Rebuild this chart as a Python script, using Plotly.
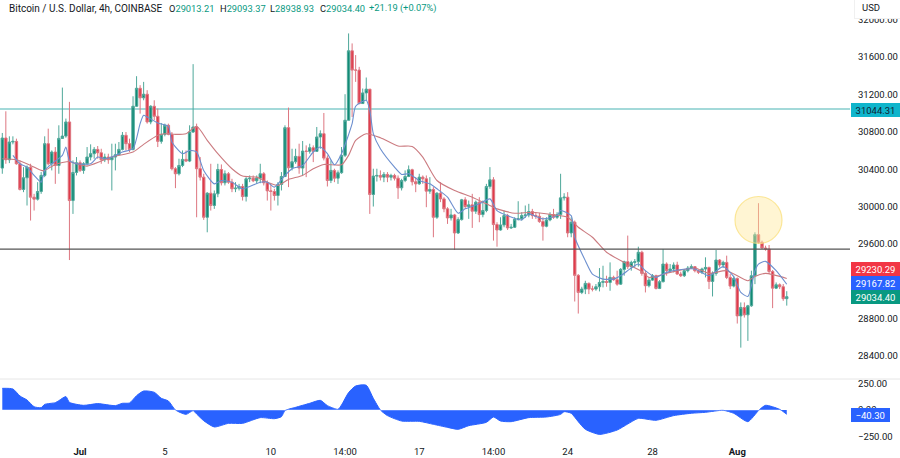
import pandas as pd
import plotly.graph_objects as go

# === Datos ===
dates = pd.date_range("2023-06-27 08:00", periods=223, freq="4h")

first_open = 30412
closes = [
    30734, 30501, 30691, 30698, 30458, 30183, 30308, 30422, 30100, 30079, 30161, 30333, 30673, 30458, 30584,
    30440, 30730, 30755, 30906, 30064, 30365, 30469, 30387, 30458, 30530, 30566, 30612, 30576, 30501, 30530,
    30501, 30530, 30555, 30612, 30763, 30673, 30612, 31074, 31267, 31164, 31203, 30906, 31074, 30967, 30698,
    30773, 30870, 30773, 30405, 30351, 30440, 30505, 30487, 30798, 30852, 30405, 30315, 29885, 30143, 30011,
    30136, 30397, 30254, 30351, 30261, 30190, 30197, 30215, 30107, 30297, 30304, 30276, 30304, 30351, 30254,
    30168, 30161, 30118, 30236, 30322, 30845, 30415, 30480, 30537, 30412, 30594, 30591, 30630, 30591, 30745,
    30780, 30519, 30279, 30387, 30304, 30362, 30548, 30924, 31668, 31461, 31461, 31103, 31217, 31257, 30129,
    30326, 30333, 30315, 30344, 30315, 30333, 30304, 30200, 30279, 30322, 30394, 30265, 30243, 30315, 30297,
    30165, 30183, 29885, 30143, 30082, 29975, 29878, 29910, 29717, 29860, 30072, 30000, 30018, 29950, 30047,
    29914, 29957, 30215, 30286, 29807, 29749, 29803, 29903, 29771, 29778, 29864, 29868, 29903, 29910, 29946,
    29903, 29896, 29839, 29789, 29857, 29914, 29885, 29914, 30093, 30100, 29717, 29832, 29263, 29080, 29116,
    29177, 29116, 29116, 29141, 29187, 29198, 29187, 29241, 29216, 29169, 29327, 29409, 29356, 29402, 29409,
    29510, 29284, 29152, 29212, 29259, 29123, 29195, 29384, 29313, 29331, 29374, 29277, 29259, 29313, 29341,
    29356, 29313, 29295, 29331, 29348, 29198, 29284, 29427, 29374, 29402, 29241, 29148, 29230, 28829, 28919,
    28840, 28937, 29259, 29699, 29617, 29556, 29545, 29305, 29126, 29162, 29141, 29013.21, 29034.40,
]
highs = [
    30788, 31020, 30752, 30752, 30727, 30494, 30422, 30440, 30458, 30136, 30261, 30369, 30752, 30834, 30601,
    30637, 30870, 31274, 30942, 31121, 30494, 30530, 30494, 30476, 30637, 30666, 30637, 30648, 30619, 30566,
    30566, 30673, 30673, 30691, 30798, 30798, 30727, 31181, 31396, 31300, 31335, 31246, 31085, 31138, 31049,
    30895, 30888, 30888, 30798, 30422, 30512, 30601, 30601, 30870, 31525, 30888, 30530, 30351, 30154, 30458,
    30172, 30458, 30451, 30387, 30369, 30297, 30261, 30243, 30243, 30315, 30333, 30333, 30333, 30458, 30369,
    30279, 30243, 30190, 30261, 30369, 30870, 31060, 30619, 30619, 30673, 30702, 30655, 30673, 30655, 30852,
    30816, 31002, 30548, 30494, 30405, 30387, 30637, 31203, 31854, 31747, 31622, 31496, 31264, 31382, 31257,
    30405, 30405, 30387, 30369, 30369, 30351, 30351, 30333, 30297, 30387, 30440, 30405, 30315, 30351, 30333,
    30333, 30315, 30208, 30154, 30261, 30100, 29993, 29975, 29921, 29885, 30082, 30100, 30064, 30136, 30064,
    30100, 30064, 30243, 30422, 30315, 29832, 29885, 29957, 29921, 29814, 29885, 30057, 29939, 30011, 30029,
    29975, 29939, 29932, 29885, 29885, 29939, 29975, 29939, 30351, 30143, 30154, 29885, 29850, 29277, 29141,
    29205, 29187, 29152, 29170, 29341, 29366, 29259, 29402, 29259, 29313, 29341, 29420, 29689, 29420, 29438,
    29570, 29527, 29313, 29241, 29277, 29270, 29212, 29545, 29402, 29384, 29402, 29409, 29302, 29327, 29363,
    29381, 29363, 29327, 29345, 29456, 29356, 29305, 29535, 29438, 29420, 29474, 29277, 29259, 29241, 28973,
    28973, 28947, 29313, 29724, 30036, 29635, 29581, 29588, 29320, 29187, 29177, 29170, 29093.37,
]
lows = [
    30351, 30458, 30465, 30666, 30448, 30172, 30154, 30011, 29850, 29957, 30064, 30136, 30315, 30440, 30387,
    30243, 30351, 30745, 30737, 29427, 29921, 30333, 30369, 30351, 30440, 30494, 30512, 30512, 30458, 30476,
    30458, 30172, 30387, 30548, 30601, 30601, 30584, 30601, 31067, 30995, 31138, 30888, 30881, 30924, 30637,
    30673, 30752, 30763, 30387, 30197, 30333, 30422, 30476, 30476, 30788, 29885, 30279, 29857, 29724, 29957,
    29975, 30100, 30226, 30226, 30243, 30154, 30154, 30172, 30064, 30054, 30261, 30261, 30243, 30250, 30226,
    30064, 29957, 30064, 30011, 30172, 30315, 30208, 30387, 30458, 30351, 30333, 30315, 30566, 30476, 30584,
    30619, 30494, 30215, 30251, 30261, 30243, 30351, 30530, 30924, 30959, 31335, 31095, 31103, 31138, 29921,
    30000, 30268, 30279, 30261, 30261, 30279, 30279, 30082, 30172, 30261, 30315, 30226, 30154, 30233, 30243,
    29993, 30136, 29671, 29868, 30047, 29939, 29814, 29850, 29535, 29706, 29850, 29975, 29868, 29771, 29921,
    29832, 29885, 29939, 30190, 29635, 29570, 29742, 29778, 29749, 29760, 29771, 29850, 29850, 29878, 29885,
    29868, 29868, 29825, 29635, 29778, 29842, 29868, 29868, 29868, 30064, 29671, 29671, 28983, 28854, 29062,
    29062, 29062, 29091, 29098, 29091, 29134, 29141, 29098, 29205, 29152, 29162, 29259, 29331, 29313, 29348,
    29356, 29259, 29080, 29134, 29205, 29112, 29116, 29187, 29259, 29295, 29295, 29270, 29245, 29245, 29295,
    29331, 29295, 29277, 29277, 29241, 29116, 29037, 29259, 29348, 29341, 29223, 29116, 29134, 28747, 28489,
    28811, 28561, 28926, 29169, 29599, 29545, 29527, 29277, 28912, 29116, 29116, 28990, 28938.93,
]
opens = [first_open] + closes[:-1]

# medias moviles, leidas cada pocas velas
slow_idx = [0, 4, 8, 11, 12, 15, 19, 21, 24, 28, 31, 37, 40, 44, 46, 49, 52, 55, 58, 61, 65, 68, 72, 75, 78, 81,
            85, 88, 91, 96, 98, 100, 103, 107, 112, 116, 119, 123, 128, 133, 137, 140, 145, 150, 156, 160,
            163, 167, 171, 176, 181, 183, 189, 196, 200, 205, 211, 213, 216, 222]
slow_ma = [30512, 30501, 30440, 30387, 30387, 30451, 30483, 30458, 30433, 30487, 30530, 30584, 30666, 30763, 30780,
           30773, 30780, 30859, 30709, 30566, 30405, 30326, 30315, 30261, 30226, 30290, 30333, 30405, 30451, 30447,
           30548, 30709, 30780, 30737, 30648, 30644, 30530, 30279, 30172, 30100, 30029, 29975, 29928, 29939, 29911,
           29885, 29778, 29671, 29510, 29402, 29305, 29241, 29295, 29341, 29284, 29313, 29205, 29252, 29284, 29230.29]

fast_idx = [3, 5, 7, 9, 11, 12, 14, 17, 18, 19, 21, 25, 27, 29, 31, 34, 37, 39, 40, 41, 44, 47, 48, 51, 53, 55, 57,
            60, 62, 65, 68, 73, 75, 77, 80, 82, 85, 88, 90, 92, 94, 96, 99, 100, 103, 104, 105, 107, 111, 113, 115,
            118, 121, 123, 126, 129, 131, 135, 138, 140, 143, 147, 149, 153, 157, 158, 161, 162, 165, 167, 170,
            173, 175, 178, 180, 182, 185, 188, 191, 196, 200, 204, 207, 209, 211, 213, 214, 216, 219, 222]
fast_ma = [30548, 30458, 30422, 30333, 30261, 30387, 30458, 30548, 30637, 30494, 30458, 30458, 30530, 30512, 30530,
           30584, 30619, 30888, 30977, 30959, 30895, 30859, 30691, 30566, 30601, 30584, 30387, 30243, 30279, 30261,
           30190, 30261, 30261, 30208, 30333, 30405, 30440, 30584, 30637, 30566, 30447, 30566, 30888, 31074, 31138,
           31031, 30780, 30619, 30422, 30344, 30351, 30279, 30243, 30190, 30100, 29928, 29975, 30029, 30082, 29957,
           29903, 29857, 29921, 29868, 29903, 29957, 29903, 29671, 29420, 29277, 29223, 29223, 29259, 29341, 29384,
           29313, 29241, 29295, 29320, 29331, 29259, 29356, 29248, 29080, 29037, 29313, 29384, 29413, 29313, 29167.82]

# oscilador del panel inferior
osc_idx = [0, 3, 5, 7, 9, 11, 12, 15, 16, 18, 19, 23, 27, 32, 34, 36, 38, 40, 43, 45, 47, 49, 52, 54, 55, 57, 60,
           64, 68, 73, 77, 79, 80, 83, 87, 90, 92, 95, 96, 98, 100, 103, 105, 107, 109, 113, 118, 122, 126, 129,
           132, 137, 139, 141, 144, 149, 154, 158, 159, 161, 163, 165, 169, 174, 177, 180, 185, 190, 195, 199,
           204, 207, 211, 214, 216, 220, 222]
osc_vals = [204, 198, 132, 94, 31, 22, 53, 69, 88, 126, 72, 44, 60, 41, 63, 66, 135, 179, 167, 110, 85, 0, -41, -6,
            -38, -101, -160, -126, -126, -72, -82, -63, -6, 25, 63, 91, 41, 6, 47, 164, 226, 233, 110, 0, -53, -104,
            -107, -135, -164, -182, -148, -116, -66, -104, -110, -72, -66, -41, -16, -31, -110, -182, -230, -189,
            -132, -79, -97, -53, -31, -22, -3, -31, -110, -6, 44, 6, -40.30]

support = 29544
resistance = 31044.31

price_ticks = [28400, 28800, 29200, 29600, 30000, 30400, 30800, 31200, 31600, 32000]
osc_ticks = [-250, 0, 250]
date_ticks = ["2023-07-01", "2023-07-05", "2023-07-10", "2023-07-13 12:00", "2023-07-17",
              "2023-07-20 12:00", "2023-07-24", "2023-07-28", "2023-08-01"]
date_labels = ["<b>Jul</b>", "5", "10", "14:00", "17", "14:00", "24", "28", "<b>Aug</b>"]

ohlc_labels = ["O", "H", "L", "C", ""]
ohlc_values = ["29013.21", "29093.37", "28938.93", "29034.40", "+21.19 (+0.07%)"]
ohlc_left = [167, 218, 268, 318, 367]

W, H = 900, 458
TEXT = "#131722"
UP = "#089981"
FONT = "Roboto"
FSIZE = 9.5


def px_x(v):
    return v / W


def px_y(v):
    return 1 - v / H


def etiqueta(fig, texto, y_pix, color, x0=851, x1=900, alto=14, color_texto="white", borde=None):
    fig.add_annotation(xref="paper", yref="paper", x=px_x((x0 + x1) / 2), y=px_y(y_pix), xanchor="center",
                       yanchor="middle", text=texto, showarrow=False, width=x1 - x0, height=alto, bgcolor=color,
                       borderpad=0, borderwidth=1 if borde else 0, bordercolor=borde or color,
                       font=dict(color=color_texto, size=FSIZE, family=FONT))


def cabecera(fig, texto, x_pix, size=10):
    fig.add_annotation(xref="paper", yref="paper", x=px_x(x_pix), y=px_y(8), xanchor="left", yanchor="middle",
                       text=texto, showarrow=False, font=dict(color=TEXT, size=size, family=FONT))


fig = go.Figure()
fig.add_trace(go.Candlestick(
    x=dates, open=opens, high=highs, low=lows, close=closes,
    increasing=dict(line=dict(color="#4fa89a", width=1), fillcolor="#128a76"),
    decreasing=dict(line=dict(color="#dd7680", width=1), fillcolor="#e03a4a"),
    whiskerwidth=0, xaxis="x", yaxis="y",
))
fig.add_trace(go.Scatter(x=dates[slow_idx], y=slow_ma, mode="lines",
                         line=dict(color="#cb7b80", width=1.1, shape="spline", smoothing=0.6)))
fig.add_trace(go.Scatter(x=dates[fast_idx], y=fast_ma, mode="lines",
                         line=dict(color="#6c8fcf", width=1.1, shape="spline", smoothing=0.6)))
fig.add_trace(go.Scatter(x=dates[osc_idx], y=osc_vals, mode="lines", fill="tozeroy", fillcolor="#2962ff",
                         line=dict(color="#2962ff", width=1, shape="spline", smoothing=0.6), xaxis="x", yaxis="y2"))

# lineas horizontales y circulo
fig.add_shape(type="line", xref="x domain", yref="y", x0=0, x1=1, y0=resistance, y1=resistance,
              line=dict(color="#a3d9d9", width=2), layer="below")
fig.add_shape(type="line", xref="x domain", yref="y", x0=0, x1=1, y0=support, y1=support,
              line=dict(color="#555", width=1.1), layer="above")
fig.add_shape(type="circle", xref="paper", yref="paper", x0=px_x(735), x1=px_x(782), y0=px_y(243.5), y1=px_y(196.5),
              fillcolor="rgba(255,232,150,0.42)", line=dict(color="rgba(250,225,130,0.8)", width=1.2), layer="above")
fig.add_shape(type="line", xref="paper", yref="paper", x0=0, x1=1, y0=px_y(379), y1=px_y(379),
              line=dict(color="#e6e6e6", width=1))
fig.add_shape(type="line", xref="x domain", yref="y2", x0=0, x1=0.92, y0=0, y1=0,
              line=dict(color="rgba(255,255,255,0.45)", width=1))

# textos
cabecera(fig, "Bitcoin / U.S. Dollar, 4h, COINBASE", 6.5)
for letra, valor, izq in zip(ohlc_labels, ohlc_values, ohlc_left):
    cabecera(fig, f"{letra}<span style='color:{UP}'>{valor}</span>", izq, size=9.3)

etiqueta(fig, " ", 7, "white", x0=855, x1=906, alto=22, borde="#f0f0f0")
fig.add_annotation(xref="paper", yref="paper", x=px_x(870.5), y=px_y(7.5), xanchor="center", yanchor="middle",
                   text="USD", showarrow=False, font=dict(color=TEXT, size=FSIZE, family=FONT))
etiqueta(fig, "31044.31", 109.5, "#10b5cc", color_texto="#123")
etiqueta(fig, "29230.29", 269, "#f23645")
etiqueta(fig, "29167.82", 282.5, "#2962ff")
etiqueta(fig, "29034.40", 296.5, UP)
etiqueta(fig, "\u221240.30", 415, "#2962ff", x1=889.5)
etiqueta(fig, " ", 444, "white", x0=851, alto=8)

fig.update_layout(
    width=W, height=H, margin=dict(l=0, r=0, t=0, b=0, pad=0),
    template="none", showlegend=False, paper_bgcolor="white", plot_bgcolor="white", boxgap=0.02,
    font=dict(family=FONT, size=FSIZE, color=TEXT),
    xaxis=dict(domain=[0, 850 / W], anchor="y2", type="date",
               range=[dates[0] - pd.Timedelta(hours=2.6), dates[0] + pd.Timedelta(hours=959.6)],
               tickmode="array", tickvals=date_ticks, ticktext=date_labels, showgrid=False, zeroline=False,
               showline=False, ticks="", ticklabelstandoff=6, rangeslider=dict(visible=False)),
    yaxis=dict(domain=[px_y(379), 1], range=[28153, 32212], side="right", anchor="x", tickmode="array",
               tickvals=price_ticks, tickformat=".2f", showgrid=False, zeroline=False, showline=False, ticks="",
               ticklabelstandoff=7),
    yaxis2=dict(domain=[px_y(438), px_y(379)], range=[-264, 292], side="right", anchor="x", tickmode="array",
                tickvals=osc_ticks, tickformat=".2f", showgrid=False, zeroline=False, showline=False, ticks="",
                ticklabelstandoff=7),
)

fig.write_html("out.html", config=dict(displayModeBar=False),
               post_script="document.body.style.margin='0';document.body.style.overflow='hidden';")
